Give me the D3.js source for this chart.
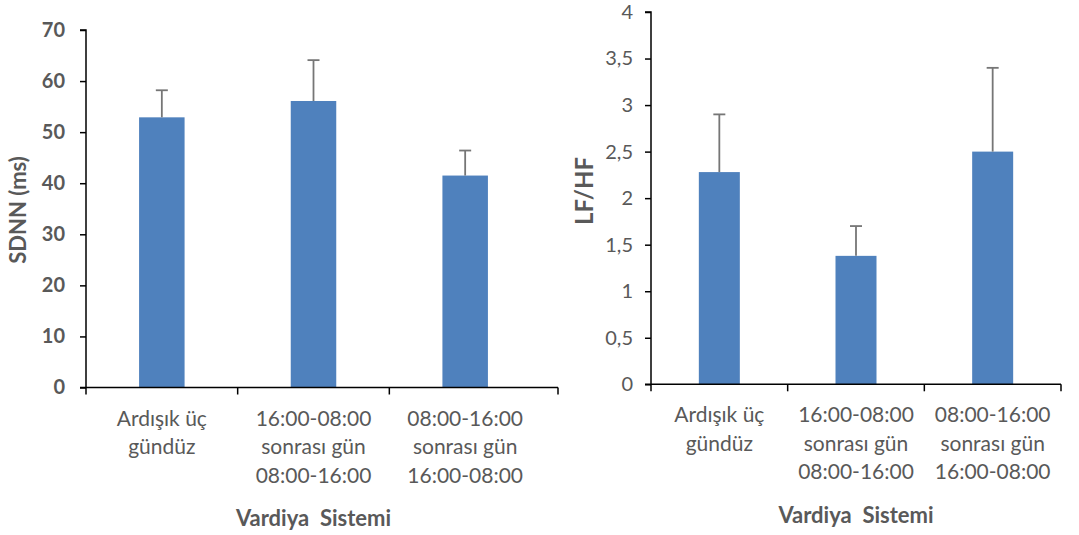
<!DOCTYPE html>
<html><head><meta charset="utf-8">
<script src="https://cdn.jsdelivr.net/npm/d3@7"></script>
<style>body{margin:0;background:#fff}svg{display:block}text{font-family:Lato,"Open Sans",sans-serif}</style>
</head><body>
<svg id="c" width="1079" height="535"></svg>
<script>
const categories = [["Ardışık üç","gündüz"],["16:00-08:00","sonrası gün","08:00-16:00"],["08:00-16:00","sonrası gün","16:00-08:00"]];
const sdnnMean = [52.9, 56.1, 41.5];
const sdnnErr = [58.2, 64.1, 46.4];
const lfhfMean = [2.28, 1.38, 2.5];
const lfhfErr = [2.9, 1.7, 3.4];
const sdnnTicks = [0,10,20,30,40,50,60,70];
const lfhfTicks = [0,0.5,1,1.5,2,2.5,3,3.5,4];

const svg = d3.select("#c");
const barColor = "#4F81BD", textColor = "#595959";

function panel(o){
  const g = svg.append("g");
  const x = d3.scaleBand().domain(d3.range(3)).range([o.x0, o.x1]).paddingInner(0.7).paddingOuter(0.35);
  const y = d3.scaleLinear().domain(o.domain).range([o.y0, o.y1]);
  const bw = x.bandwidth();
  g.selectAll("rect.bar").data(o.mean).join("rect")
    .attr("x",(d,i)=>x(i)).attr("width",bw)
    .attr("y",d=>y(d)).attr("height",d=>y(0)-y(d)).attr("fill",barColor);
  g.selectAll("line.eb").data(o.err).join("line")
    .attr("x1",(d,i)=>x(i)+bw/2).attr("x2",(d,i)=>x(i)+bw/2)
    .attr("y1",(d,i)=>y(o.mean[i])).attr("y2",d=>y(d))
    .attr("stroke","#767676").attr("stroke-width",1.8);
  g.selectAll("line.cap").data(o.err).join("line")
    .attr("x1",(d,i)=>x(i)+bw/2-6).attr("x2",(d,i)=>x(i)+bw/2+6)
    .attr("y1",d=>y(d)).attr("y2",d=>y(d))
    .attr("stroke","#767676").attr("stroke-width",1.8);
  const ya = d3.axisLeft(y).tickValues(o.ticks).tickSize(6).tickPadding(o.tickPad)
    .tickFormat(d=>String(d).replace(".",","));
  const yg = g.append("g").attr("transform",`translate(${o.x0},0)`).call(ya);
  yg.select(".domain").attr("stroke","#000").attr("stroke-width",1.5).attr("d",`M-6,${y(o.domain[1])}H0V${y(0)}`);
  yg.selectAll(".tick line").attr("stroke","#000").attr("stroke-width",1.5);
  yg.selectAll(".tick text").attr("fill",textColor).attr("font-size",o.tickSize).attr("font-weight",o.tickWeight)
    .attr("font-family","Lato, sans-serif");
  const xg = g.append("g").attr("transform",`translate(0,${y(0)})`);
  xg.append("line").attr("x1",o.x0-6).attr("x2",o.xEnd).attr("y1",0).attr("y2",0).attr("stroke","#000").attr("stroke-width",1.5);
  const tickPos = [o.x0, ...d3.range(1,3).map(i=>x(i)-x.step()*x.paddingInner()/2), o.xEnd];
  xg.selectAll("line.t").data(tickPos).join("line")
    .attr("x1",d=>d).attr("x2",d=>d).attr("y1",0).attr("y2",7).attr("stroke","#000").attr("stroke-width",1.5);
  categories.forEach((lines,i)=>{
    const t = xg.append("text").attr("text-anchor","middle").attr("fill",textColor).attr("font-size",21)
      .attr("x",x(i)+bw/2);
    lines.forEach((l,j)=>t.append("tspan").attr("x",x(i)+bw/2).attr("y",38+j*28.5).text(l));
  });
  g.append("text").attr("x",(o.x0+o.x1)/2).attr("y",o.xTitleY).attr("text-anchor","middle")
    .attr("font-size",22).attr("font-weight","bold").attr("fill",textColor).attr("xml:space","preserve").text("Vardiya  Sistemi");
  g.append("text").attr("transform",`translate(${o.yTitleX},${o.yTitleY}) rotate(-90)`).attr("text-anchor","middle")
    .attr("font-size",o.yTitleSize).attr("font-weight","bold").attr("fill",textColor).text(o.yTitle);
}

panel({x0:86,x1:541,xEnd:558,y0:387.5,y1:30,domain:[0,70],ticks:sdnnTicks,mean:sdnnMean,err:sdnnErr,
  tickSize:20,tickWeight:"bold",tickPad:15,xTitleY:526,yTitle:"SDNN (ms)",yTitleSize:22,yTitleX:26,yTitleY:210});
panel({x0:651,x1:1061,xEnd:1061,y0:384.3,y1:12,domain:[0,4],ticks:lfhfTicks,mean:lfhfMean,err:lfhfErr,
  tickSize:20,tickWeight:"normal",tickPad:12,xTitleY:523,yTitle:"LF/HF",yTitleSize:24,yTitleX:593,yTitleY:191});
</script>
</body></html>
